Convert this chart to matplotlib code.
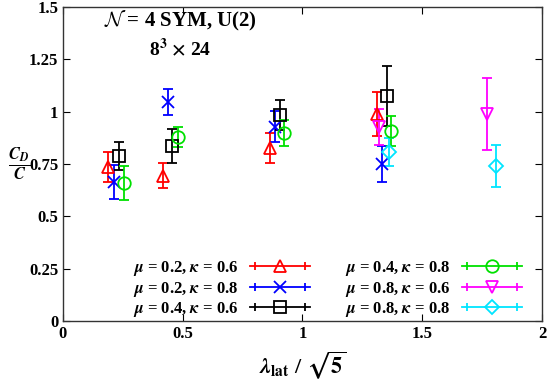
import matplotlib
matplotlib.use('Agg')
import matplotlib.pyplot as plt
from matplotlib.lines import Line2D
from matplotlib.legend_handler import HandlerLine2D

plt.rcParams['font.family'] = ['Liberation Serif', 'DejaVu Serif']
plt.rcParams['font.weight'] = 'bold'
plt.rcParams['mathtext.fontset'] = 'stix'

# data: x = lambda_lat / sqrt(5), y = C_D / C, dy = error
labels = [r'$\mu$ = 0.2, $\kappa$ = 0.6', r'$\mu$ = 0.2, $\kappa$ = 0.8',
          r'$\mu$ = 0.4, $\kappa$ = 0.6', r'$\mu$ = 0.4, $\kappa$ = 0.8',
          r'$\mu$ = 0.8, $\kappa$ = 0.6', r'$\mu$ = 0.8, $\kappa$ = 0.8']
colors = ['#ff0000', '#0000ff', '#000000', '#00e000', '#ff00ff', '#00e5ff']
markers = ['^', 'x', 's', 'o', 'v', 'D']

x_m02k06 = [0.188, 0.418, 0.864, 1.311]
y_m02k06 = [0.736, 0.693, 0.827, 0.989]
e_m02k06 = [0.070, 0.060, 0.072, 0.107]

x_m02k08 = [0.213, 0.438, 0.885, 1.332]
y_m02k08 = [0.664, 1.046, 0.927, 0.750]
e_m02k08 = [0.083, 0.062, 0.074, 0.084]

x_m04k06 = [0.234, 0.455, 0.906, 1.353]
y_m04k06 = [0.788, 0.836, 0.984, 1.075]
e_m04k06 = [0.065, 0.079, 0.074, 0.143]

x_m04k08 = [0.255, 0.480, 0.923, 1.370]
y_m04k08 = [0.660, 0.879, 0.898, 0.908]
e_m04k08 = [0.080, 0.048, 0.062, 0.072]

x_m08k06 = [1.319, 1.770]
y_m08k06 = [0.927, 0.989]
e_m08k06 = [0.084, 0.174]

x_m08k08 = [1.361, 1.808]
y_m08k08 = [0.807, 0.741]
e_m08k08 = [0.067, 0.100]

xs = [x_m02k06, x_m02k08, x_m04k06, x_m04k08, x_m08k06, x_m08k08]
ys = [y_m02k06, y_m02k08, y_m04k06, y_m04k08, y_m08k06, y_m08k08]
es = [e_m02k06, e_m02k08, e_m04k06, e_m04k08, e_m08k06, e_m08k08]
msizes = [9, 9, 8, 9, 9, 7]

fig = plt.figure(figsize=(5.54, 3.82), dpi=100)
ax = fig.add_axes([0.1137, 0.1597, 0.8646, 0.822])

handles = []
hmap = {}
for i in range(6):
    ax.errorbar(xs[i], ys[i], yerr=es[i], fmt=markers[i], color=colors[i],
                mfc='none', mec=colors[i], ms=msizes[i], mew=1.3,
                elinewidth=1.3, capsize=3.5, capthick=1.3)
    # gnuplot-like key entry: horizontal bar with caps and marker
    caps = Line2D([], [], ls='none', marker='|', color=colors[i], ms=6, mew=1.3)
    main = Line2D([], [], color=colors[i], lw=1.3, marker=markers[i],
                  mfc='none', mec=colors[i], ms=msizes[i], mew=1.3)
    hmap[caps] = HandlerLine2D(numpoints=2)
    handles.append((caps, main))

ax.legend(handles, labels, ncol=2,
          loc='lower right', bbox_to_anchor=(0.99, -0.041), frameon=False,
          markerfirst=False, handlelength=3.6, handletextpad=0.7,
          columnspacing=2.1, labelspacing=0.08, fontsize=12,
          handler_map=hmap, numpoints=1)

ax.set_xlim(0, 2)
ax.set_ylim(0, 1.5)
ax.set_xticks([0, 0.5, 1, 1.5, 2])
ax.set_xticklabels(['0', '0.5', '1', '1.5', '2'])
ax.set_yticks([0, 0.25, 0.5, 0.75, 1, 1.25, 1.5])
ax.set_yticklabels(['0', '0.25', '0.5', '0.75', '1', '1.25', '1.5'])
ax.tick_params(direction='in', top=True, right=True, labelsize=12, length=5, width=0.8)
for s in ax.spines.values():
    s.set_linewidth(1.0)
    s.set_color('#333333')

ax.text(0.245, 0.955, r'$\mathcal{N}$ = 4 SYM, U(2)', transform=ax.transAxes,
        ha='center', va='center', fontsize=15, fontweight='bold', math_fontfamily='cm')
ax.text(0.245, 0.87, r'8$^{\mathbf{3}}$ $\times$ 24', transform=ax.transAxes,
        ha='center', va='center', fontsize=14, fontweight='bold')

fig.text(0.547, 0.045, r'$\lambda_{\rm lat}$ / $\sqrt{5}$', ha='center', va='center', fontsize=16)
fig.text(0.035, 0.57, r'$\frac{C_D}{C}$', ha='center', va='center', fontsize=17)

fig.savefig('out.png', dpi=100)
